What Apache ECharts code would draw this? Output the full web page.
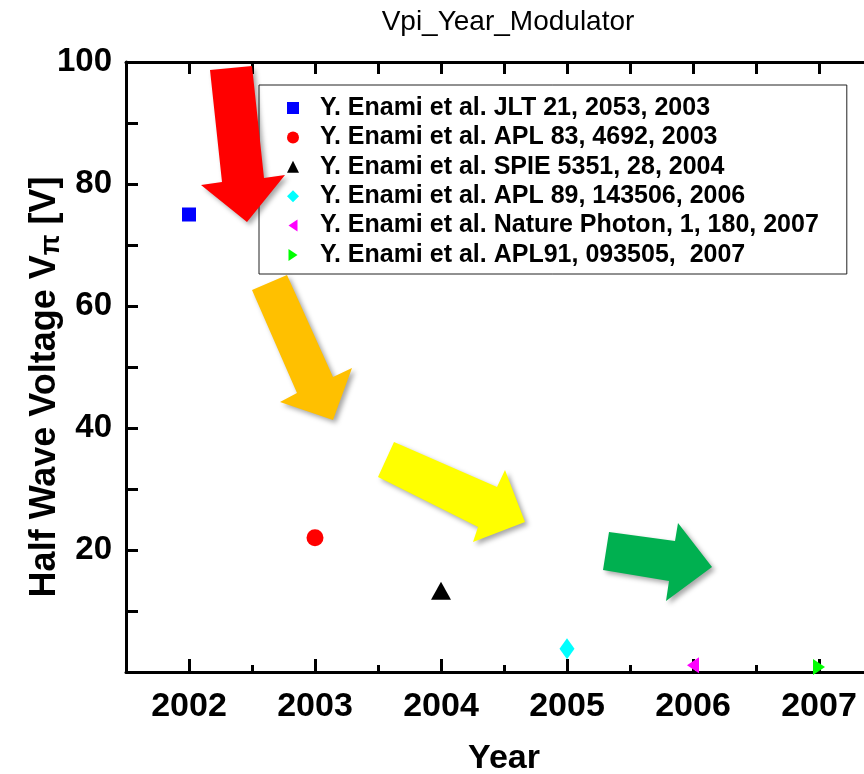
<!DOCTYPE html>
<html>
<head>
<meta charset="utf-8">
<script src="https://cdn.jsdelivr.net/npm/echarts@6/dist/echarts.min.js"></script>
<style>
  html, body { margin: 0; padding: 0; background: #fff; overflow: hidden; }
  #chart { width: 864px; height: 774px; }
</style>
</head>
<body>
<div id="chart"></div>
<script>
// Publications and the half-wave voltage each one reports
const seriesNames = [
  'Y. Enami et al. JLT 21, 2053, 2003',
  'Y. Enami et al. APL 83, 4692, 2003',
  'Y. Enami et al. SPIE 5351, 28, 2004',
  'Y. Enami et al. APL 89, 143506, 2006',
  'Y. Enami et al. Nature Photon, 1, 180, 2007',
  'Y. Enami et al. APL91, 093505,  2007'
];
const years = [2002, 2003, 2004, 2005, 2006, 2007];
const vpi = [75, 22, 13.3, 3.8, 1.1, 0.8];

// Axis ticks and labels
const yearTicks = [2002, 2003, 2004, 2005, 2006, 2007];
const halfYearTicks = [2002.5, 2003.5, 2004.5, 2005.5, 2006.5];
const voltageLabels = [20, 40, 60, 80, 100];

const FONT = '"Liberation Sans", Arial, Helvetica, sans-serif';

const markerStyles = [
  { symbol: 'rect', size: [14, 14], color: '#0000ff' },
  { symbol: 'circle', size: 17, color: '#ff0000' },
  { symbol: 'triangle', size: [20, 18], color: '#000000' },
  { symbol: 'diamond', size: [15, 21], color: '#00ffff' },
  { symbol: 'path://M12,0L12,16L0,8Z', size: [12, 16], color: '#ff00ff' },
  { symbol: 'path://M0,0L12,8L0,16Z', size: [12, 16], color: '#00ff00' }
];

const series = seriesNames.map((name, i) => ({
  name: name,
  type: 'scatter',
  data: [[years[i], vpi[i]]],
  symbol: markerStyles[i].symbol,
  symbolSize: markerStyles[i].size,
  itemStyle: { color: markerStyles[i].color, opacity: 1 },
  z: 5
}));

// Decorative block arrows showing the downward trend
function arrow(points, color) {
  return {
    type: 'polygon',
    z: 50,
    shape: { points: points },
    style: {
      fill: color,
      shadowBlur: 5,
      shadowColor: 'rgba(0,0,0,0.35)',
      shadowOffsetX: 3,
      shadowOffsetY: 3
    }
  };
}

const chart = echarts.init(document.getElementById('chart'), null, {
  renderer: 'canvas', width: 864, height: 774
});

const axisLineStyle = { color: '#000', width: 3 };

chart.setOption({
  animation: false,
  backgroundColor: '#fff',
  textStyle: { fontFamily: FONT },
  grid: { left: 126, top: 62, right: -18, bottom: 102, containLabel: false, outerBoundsMode: 'none' },
  legend: {
    orient: 'vertical',
    left: 259,
    top: 85,
    itemWidth: 12,
    itemHeight: 12,
    itemGap: 3.4,
    padding: [10, 28, 6, 28],
    borderColor: '#222',
    borderWidth: 1,
    backgroundColor: '#fff',
    textStyle: {
      fontFamily: FONT,
      fontSize: 25,
      fontWeight: 'bold',
      color: '#000',
      lineHeight: 26,
      padding: [0, 0, 0, 16]
    },
    data: seriesNames
  },
  xAxis: [
    {
      type: 'value',
      position: 'bottom',
      min: 2001.5,
      max: 2007.5,
      interval: 0.5,
      name: 'Year',
      nameLocation: 'middle',
      nameGap: 70,
      nameTextStyle: { fontFamily: FONT, fontSize: 34, fontWeight: 'bold', color: '#000' },
      axisLine: { lineStyle: axisLineStyle },
      axisTick: { inside: true, length: 13, lineStyle: { color: '#000', width: 3 }, customValues: yearTicks },
      axisLabel: {
        customValues: yearTicks,
        formatter: v => String(v),
        fontFamily: FONT, fontSize: 34, fontWeight: 'bold', color: '#000', margin: 18
      },
      splitLine: { show: false }
    },
    {
      type: 'value',
      position: 'bottom',
      min: 2001.5,
      max: 2007.5,
      interval: 0.5,
      axisLine: { show: false },
      axisTick: { inside: true, length: 7, lineStyle: { color: '#000', width: 3 }, customValues: halfYearTicks },
      axisLabel: { show: false },
      splitLine: { show: false }
    },
    {
      type: 'value',
      position: 'top',
      min: 2001.5,
      max: 2007.5,
      interval: 0.5,
      axisLine: { lineStyle: axisLineStyle },
      axisTick: { inside: true, length: 12, lineStyle: { color: '#000', width: 3 } },
      axisLabel: { show: false },
      splitLine: { show: false }
    }
  ],
  yAxis: [
    {
      type: 'value',
      min: 0,
      max: 100,
      interval: 10,
      name: 'Half Wave Voltage V{sub|π} [V]',
      nameLocation: 'middle',
      nameGap: 61,
      nameMoveOverlap: false,
      nameRotate: 90,
      nameTextStyle: {
        fontFamily: FONT, fontSize: 36, fontWeight: 'bold', color: '#000', lineHeight: 40,
        padding: [0, 40, 0, 0],
        rich: {
          sub: { fontFamily: FONT, fontSize: 27, fontWeight: 'bold', color: '#000', lineHeight: 26, verticalAlign: 'bottom' }
        }
      },
      axisLine: { lineStyle: axisLineStyle },
      axisTick: { inside: true, length: 12, lineStyle: { color: '#000', width: 3 } },
      axisLabel: {
        customValues: voltageLabels,
        fontFamily: FONT, fontSize: 33, fontWeight: 'bold', color: '#000', margin: 14
      },
      splitLine: { show: false }
    }
  ],
  series: series,
  graphic: [
    {
      type: 'text',
      x: 508,
      y: 8,
      z: 10,
      style: { text: 'Vpi_Year_Modulator', fontFamily: FONT, fontSize: 28, fill: '#000', textAlign: 'center' }
    },
    arrow([[210, 70], [252, 66], [264, 178], [285, 175], [247, 222], [201, 185], [222, 182]], '#ff0000'),
    arrow([[252, 290], [287, 275], [333, 377], [352, 368], [333, 420], [280, 402], [297, 393]], '#ffc000'),
    arrow([[394, 442], [497, 487], [505, 470], [525, 522], [473, 542], [478, 527], [378, 477]], '#ffff00'),
    arrow([[609, 532], [675, 541], [678, 523], [712, 567], [666, 601], [669, 581], [603, 570]], '#00b050')
  ]
});
</script>
</body>
</html>
